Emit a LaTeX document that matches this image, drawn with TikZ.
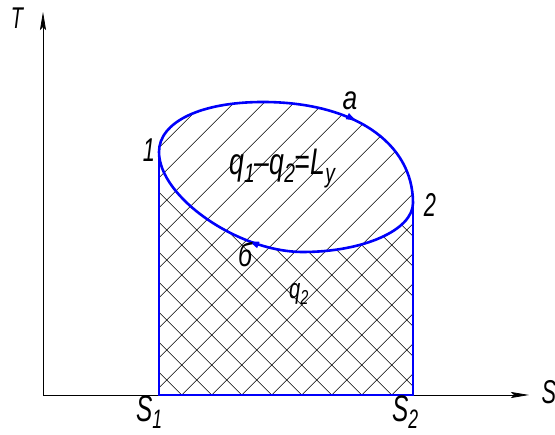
\documentclass[tikz,border=0pt]{standalone}
\usepackage{fontspec}
\setmainfont{Liberation Sans}
\usepackage{graphicx}
\usetikzlibrary{arrows.meta,decorations.markings}
\definecolor{cycleblue}{RGB}{0,0,250}
\newcommand{\gost}[2][0.66]{\scalebox{#1}[1]{\itshape #2}}
\newcommand{\gsub}[1]{\raisebox{-0.2em}{\scalebox{0.72}{#1}}}

\begin{document}
\begin{tikzpicture}[x=1pt,y=1pt,
    axis/.style={line width=0.8pt, -{Stealth[length=18pt,width=6pt,inset=3pt]}},
    hatch/.style={black, line width=0.5pt},
    bound/.style={cycleblue, line width=2.6pt},
    flow/.tip={Latex[length=14pt,width=7pt]},
    lbl/.style={inner sep=0pt, font=\fontsize{33}{33}\selectfont},
    biglbl/.style={inner sep=0pt, font=\fontsize{37}{37}\selectfont}]
  \useasboundingbox (0,0) rectangle (555,435);

  % Axes
  \coordinate (O) at (43,40);
  \coordinate (Ttip) at (43,423);
  \coordinate (Stip) at (529,40);
  \draw[axis] (O) -- (Ttip);
  \draw[axis] (O) -- (Stip);
  \node[lbl, font=\fontsize{30}{30}\selectfont] (labT) at (17,417) {\gost{T}};
  \node[lbl] (labS) at (549,43) {\gost{S}};

  % Cycle points
  \coordinate (s1) at (159,40);
  \coordinate (s2) at (413,40);
  \coordinate (p1) at (159,283);
  \coordinate (p2) at (413,232);
  \coordinate (top) at (263,333);
  \coordinate (bot) at (303,183);

  % Single hatching (cycle and area under it)
  \begin{scope}
    \clip (s1) -- (p1) .. controls (159,313) and (200.6,333) .. (top)
      .. controls (353,333) and (413,292.6) .. (p2) -- (s2) -- cycle;
    \foreach \k in {-11,...,8}{
      \draw[hatch] (181.7+30*\k,40) -- ++(300,300);
    }
  \end{scope}

  % Cross hatching (area under lower arc)
  \begin{scope}
    \clip (s1) -- (p1) .. controls (159,238) and (238.2,183) .. (bot)
      .. controls (363.5,183) and (413,205) .. (p2) -- (s2) -- cycle;
    \foreach \k in {0,...,15}{
      \draw[hatch] (181.7+30*\k,40) -- ++(-300,300);
    }
  \end{scope}

  % Cycle 1-a-2-b-1
  \draw[bound, postaction={decorate}, decoration={markings,
      mark=at position 0.35 with {\arrow{flow}},
      mark=at position 0.8 with {\arrow{flow}}}]
    (p1) .. controls (159,313) and (200.6,333) .. (top)
    .. controls (353,333) and (413,292.6) .. (p2)
    .. controls (413,205) and (363.5,183) .. (bot)
    .. controls (238.2,183) and (159,238) .. (p1) -- cycle;
  \draw[bound] (p1) -- (s1) -- (s2) -- (p2);

  % Labels
  \node[lbl] (lab1) at (149,285) {\gost{1}};
  \node[lbl] (lab2) at (430,230) {\gost{2}};
  \node[lbl] (laba) at (350,334) {\gost[0.8]{а}};
  \node[lbl] (labb) at (245,180) {\gost[0.75]{б}};
  \node[biglbl, anchor=base west] (labS1) at (136,13.5) {\gost{S\gsub{1}}};
  \node[biglbl, anchor=base west] (labS2) at (392,13.5) {\gost{S\gsub{2}}};
  \node[biglbl, anchor=base west]
    (work) at (229,260) {\gost[0.72]{q\gsub{1}–q\gsub{2}=L\gsub{y}}};
  \node[inner sep=0pt, font=\fontsize{28}{28}\selectfont, anchor=base west]
    (labq2) at (289,136) {\gost[0.72]{q\gsub{2}}};
\end{tikzpicture}
\end{document}
